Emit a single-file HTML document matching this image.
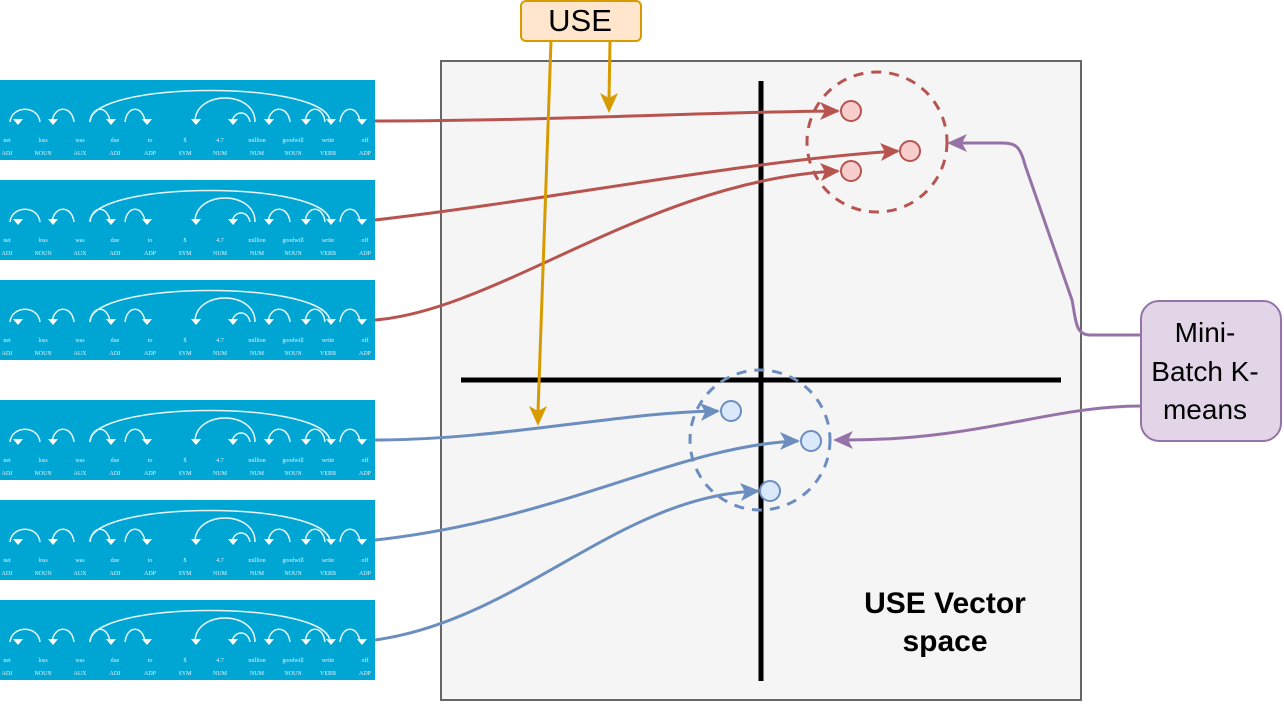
<!DOCTYPE html>
<html><head><meta charset="utf-8"><style>
html,body{margin:0;padding:0;background:#fff}
svg{display:block}
.w{font-family:"Liberation Serif",serif;font-size:6px;fill:#dff2fa}
.a{fill:none;stroke:#e8f6fc;stroke-width:1.5}
</style></head><body>
<svg width="1284" height="704" viewBox="0 0 1284 704" xmlns="http://www.w3.org/2000/svg">
<defs>
<g id="dep">
<rect x="0" y="0" width="375" height="80" fill="#00a6d3"/>
<path class="a" d="M90,42 C90,0 330,0 330,42"/>
<path class="a" d="M195,42 C195,10 255,10 255,42"/>
<path class="a" d="M10,42 C12,25 38,25 40,42 M52,42 C54,25 72,25 74,42 M90,42 C92,25 108,25 110,42 M125,42 C127,25 143,25 145,42 M232,42 C234,30 248,30 250,42 M268,42 C270,25 288,25 290,42 M305,42 C307,25 323,25 325,42 M340,42 C342,25 358,25 360,42"/>
<path d="M13,39 l5,6 l5,-6z M48,39 l5,6 l5,-6z M106,39 l5,6 l5,-6z M142,39 l5,6 l5,-6z M191,39 l5,6 l5,-6z M228,39 l5,6 l5,-6z M264,39 l5,6 l5,-6z M301,39 l5,6 l5,-6z M326,39 l5,6 l5,-6z M357,39 l5,6 l5,-6z" fill="#fff"/>
<text class="w" x="7" y="62" text-anchor="middle">net</text><text class="w" x="43" y="62" text-anchor="middle">loss</text><text class="w" x="80" y="62" text-anchor="middle">was</text><text class="w" x="115" y="62" text-anchor="middle">due</text><text class="w" x="150" y="62" text-anchor="middle">to</text><text class="w" x="185" y="62" text-anchor="middle">$</text><text class="w" x="220" y="62" text-anchor="middle">4.7</text><text class="w" x="257" y="62" text-anchor="middle">million</text><text class="w" x="293" y="62" text-anchor="middle">goodwill</text><text class="w" x="328" y="62" text-anchor="middle">write</text><text class="w" x="365" y="62" text-anchor="middle">off</text>
<text class="w" x="7" y="75" text-anchor="middle">ADJ</text><text class="w" x="43" y="75" text-anchor="middle">NOUN</text><text class="w" x="80" y="75" text-anchor="middle">AUX</text><text class="w" x="115" y="75" text-anchor="middle">ADJ</text><text class="w" x="150" y="75" text-anchor="middle">ADP</text><text class="w" x="185" y="75" text-anchor="middle">SYM</text><text class="w" x="220" y="75" text-anchor="middle">NUM</text><text class="w" x="257" y="75" text-anchor="middle">NUM</text><text class="w" x="293" y="75" text-anchor="middle">NOUN</text><text class="w" x="328" y="75" text-anchor="middle">VERB</text><text class="w" x="365" y="75" text-anchor="middle">ADP</text>
</g>
</defs>
<use href="#dep" x="0" y="80"/>
<use href="#dep" x="0" y="180"/>
<use href="#dep" x="0" y="280"/>
<use href="#dep" x="0" y="400"/>
<use href="#dep" x="0" y="500"/>
<use href="#dep" x="0" y="600"/>

<rect x="441" y="61" width="640" height="639" fill="#f5f5f5" stroke="#666" stroke-width="2"/>
<line x1="761" y1="81" x2="761" y2="681" stroke="#000" stroke-width="5"/>
<line x1="461" y1="380" x2="1061" y2="380" stroke="#000" stroke-width="5"/>
<text x="945" y="613" font-family="Liberation Sans,sans-serif" font-weight="bold" font-size="30" text-anchor="middle">USE Vector</text>
<text x="945" y="651" font-family="Liberation Sans,sans-serif" font-weight="bold" font-size="30" text-anchor="middle">space</text>

<circle cx="877" cy="142" r="70" fill="none" stroke="#b85450" stroke-width="3" stroke-dasharray="10,8"/>
<circle cx="760" cy="440" r="70" fill="none" stroke="#6c8ebf" stroke-width="3" stroke-dasharray="10,8"/>

<g fill="none" stroke="#b85450" stroke-width="3">
<path d="M375,121 C550,121 700,112 838,111"/>
<path d="M375,220 C550,200 750,160 898,151"/>
<path d="M375,320 C500,310 650,180 838,171"/>
</g>
<g fill="#b85450">
<path d="M840,111 l-20,-9 l5,9 l-5,9z"/>
<path d="M900,151 l-20,-8 l5,9 l-4,9z"/>
<path d="M840,171 l-20,-8 l5,9 l-4,9z"/>
</g>
<g fill="none" stroke="#6c8ebf" stroke-width="3">
<path d="M375,440 C500,440 620,412 718,411"/>
<path d="M375,540 C560,520 680,445 798,441"/>
<path d="M375,640 C520,620 620,495 758,491"/>
</g>
<g fill="#6c8ebf">
<path d="M720,411 l-20,-8 l5,9 l-4,9z"/>
<path d="M800,441 l-20,-9 l5,9 l-5,9z"/>
<path d="M760,491 l-20,-8 l5,9 l-4,9z"/>
</g>
<g fill="#f8cecc" stroke="#b85450" stroke-width="2">
<circle cx="851" cy="111" r="10"/><circle cx="910" cy="151" r="10"/><circle cx="851" cy="171" r="10"/>
</g>
<g fill="#dae8fc" stroke="#6c8ebf" stroke-width="2">
<circle cx="731" cy="411" r="10"/><circle cx="811" cy="441" r="10"/><circle cx="770" cy="491" r="10"/>
</g>

<g fill="none" stroke="#d79b00" stroke-width="3">
<line x1="551" y1="41" x2="538" y2="412"/>
<line x1="610" y1="41" x2="609" y2="100"/>
</g>
<path d="M538,426 l-9,-20 l9,5 l9,-5z" fill="#d79b00"/>
<path d="M609,113 l-9,-20 l9,5 l9,-5z" fill="#d79b00"/>
<rect x="521" y="1" width="120" height="40" rx="5" fill="#ffe6cc" stroke="#d79b00" stroke-width="2"/>
<text x="580" y="31" font-family="Liberation Sans,sans-serif" font-size="31" text-anchor="middle">USE</text>

<g fill="none" stroke="#9673a6" stroke-width="3">
<path d="M1141,335 L1090,335 C1075,335 1076,320 1072,300 L1025,165 C1020,145 1015,143 1000,143 L962,143"/>
<path d="M1141,406 C1050,406 980,440 847,440"/>
</g>
<path d="M947,143 l20,-9 l-5,9 l5,9z" fill="#9673a6"/>
<path d="M833,440 l20,-9 l-5,9 l5,9z" fill="#9673a6"/>
<rect x="1141" y="301" width="140" height="140" rx="18" fill="#e1d5e7" stroke="#9673a6" stroke-width="2"/>
<g font-family="Liberation Sans,sans-serif" font-size="28" text-anchor="middle">
<text x="1205" y="342">Mini-</text><text x="1205" y="381">Batch K-</text><text x="1205" y="419">means</text>
</g>
</svg>
</body></html>
